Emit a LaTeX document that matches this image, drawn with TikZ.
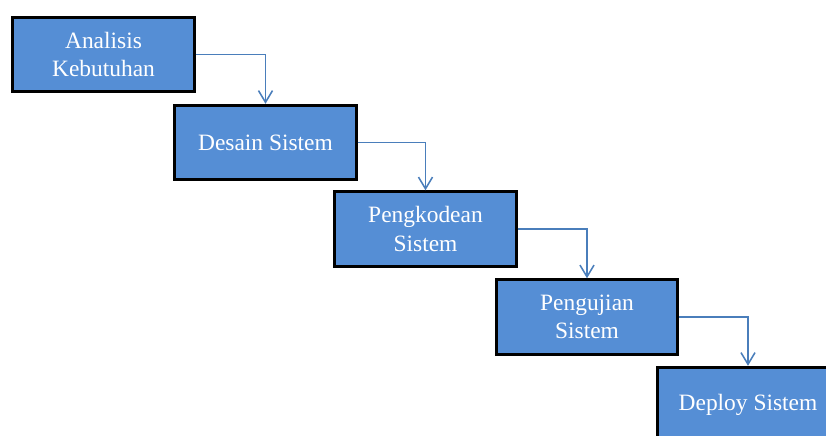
\documentclass[tikz,border=0pt]{standalone}
\usepackage{fontspec}
\setmainfont{Liberation Serif}
\usetikzlibrary{arrows.meta}

\definecolor{boxblue}{HTML}{558ED5}
\definecolor{lineblue}{HTML}{4A7EBB}

\tikzset{
  stage/.style={draw=black, line width=2.4pt, fill=boxblue, text=white,
    minimum width=5.45cm, minimum height=2.24cm, align=center,
    font=\fontsize{20}{24}\selectfont},
  flow/.style={draw=lineblue, line width=1.3pt,
    -{Straight Barb[length=10pt, width=12pt, line width=1.3pt]}}
}

\begin{document}
\begin{tikzpicture}[x=0.03cm, y=-0.03cm]

\useasboundingbox (0,0) rectangle (826,435);
\clip (0,0) rectangle (826,435);

\foreach \i/\x/\y/\t in%
    {1/103.5/54.5/{Analisis\\Kebutuhan},
     2/265.5/142.5/{Desain Sistem},
     3/425.5/229/{Pengkodean\\Sistem},
     4/587/317/{Pengujian\\Sistem},
     5/748/404.5/{Deploy Sistem}} {
  \node[stage] (s_\i) at (\x, \y) {\t};
}

\foreach \i/\j in {1/2, 2/3, 3/4, 4/5} {
  \draw[flow] (s_\i.east) -| (s_\j.north);
}

\end{tikzpicture}
\end{document}
